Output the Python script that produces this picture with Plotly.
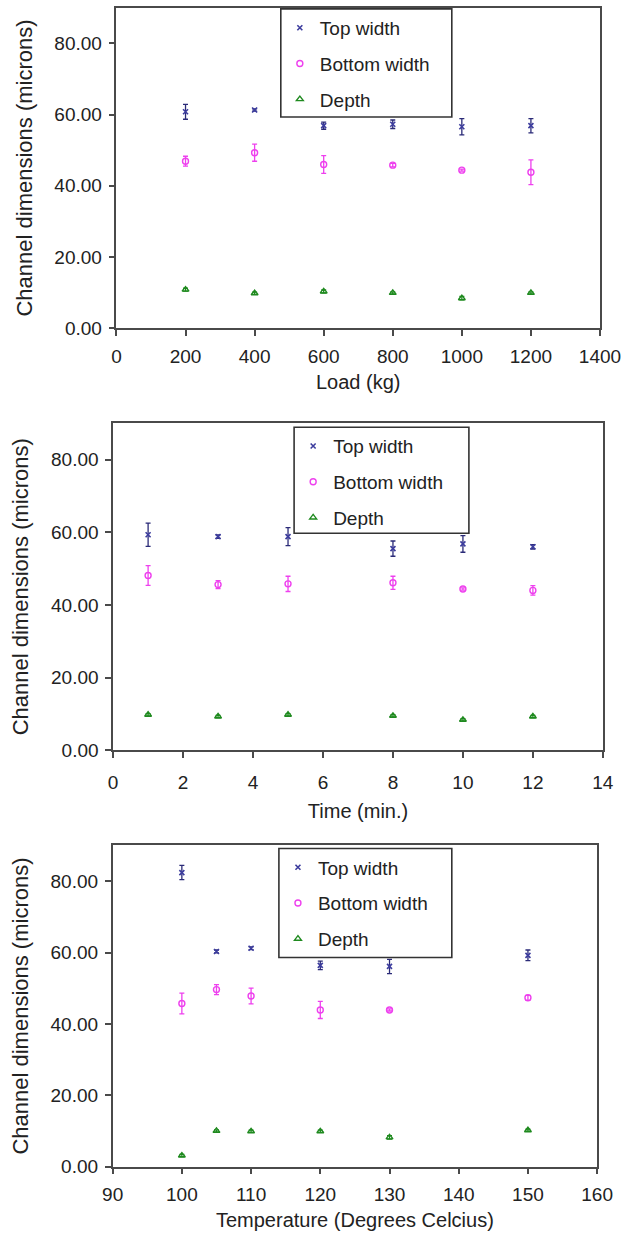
import plotly.graph_objects as go

# ---------------- data ----------------
load_kg = [200, 400, 600, 800, 1000, 1200]
load_top = [60.8, 61.3, 56.9, 57.3, 56.6, 56.9]
load_top_err = [2.1, 0.3, 1.0, 1.2, 2.3, 2.0]
load_bottom = [46.9, 49.3, 46.0, 45.8, 44.4, 43.8]
load_bottom_err = [1.4, 2.4, 2.5, 0.5, 0.3, 3.5]
load_depth = [10.8, 9.8, 10.3, 9.9, 8.4, 9.9]
load_depth_err = [0.4, 0.3, 0.4, 0.3, 0.5, 0.3]

time_min = [1, 3, 5, 8, 10, 12]
time_top = [59.3, 58.8, 58.8, 55.5, 56.8, 56.0]
time_top_err = [3.2, 0.5, 2.5, 2.1, 2.3, 0.6]
time_bottom = [48.1, 45.6, 45.8, 46.1, 44.4, 44.0]
time_bottom_err = [2.7, 1.1, 2.1, 1.8, 0.3, 1.3]
time_depth = [9.8, 9.3, 9.8, 9.5, 8.4, 9.3]
time_depth_err = [0.3, 0.3, 0.3, 0.3, 0.3, 0.3]

temp_c = [100, 105, 110, 120, 130, 150]
temp_top = [82.4, 60.3, 61.2, 56.4, 56.1, 59.2]
temp_top_err = [2.0, 0.4, 0.4, 1.2, 2.0, 1.5]
temp_bottom = [45.7, 49.6, 47.8, 43.9, 43.9, 47.3]
temp_bottom_err = [2.9, 1.4, 2.2, 2.4, 0.3, 0.7]
temp_depth = [3.1, 10.0, 9.9, 9.9, 8.2, 10.2]
temp_depth_err = [0.3, 0.3, 0.3, 0.3, 0.5, 0.3]

series_names = ["Top width", "Bottom width", "Depth"]
y_ticks = [0, 20, 40, 60, 80]

# ---------------- style ----------------
W, H = 640, 1245
FONT = "Arial, Liberation Sans, sans-serif"
TOP_C, TOP_E = "#3d3d9e", "#2b2b78"
BOT_C = "#ee40ee"
DEP_C = "#1f8a1f"
AX_C = "#4a4a4a"


def xd(px):
    return px / W


def yd(py):
    return 1 - py / H


fig = go.Figure()

panels = [
    (load_kg, [(load_top, load_top_err), (load_bottom, load_bottom_err), (load_depth, load_depth_err)], "x", "y", "legend"),
    (time_min, [(time_top, time_top_err), (time_bottom, time_bottom_err), (time_depth, time_depth_err)], "x2", "y2", "legend2"),
    (temp_c, [(temp_top, temp_top_err), (temp_bottom, temp_bottom_err), (temp_depth, temp_depth_err)], "x3", "y3", "legend3"),
]

styles = [
    dict(symbol="x-thin-open", size=5, line=dict(color=TOP_C, width=1.6), color=TOP_C),
    dict(symbol="circle-open", size=6, line=dict(color=BOT_C, width=1.4), color=BOT_C),
    dict(symbol="triangle-up-open", size=6, line=dict(color=DEP_C, width=1.4), color=DEP_C),
]
err_colors = [TOP_E, BOT_C, DEP_C]

for pi, (xs, ser, xa, ya, lg) in enumerate(panels):
    for si, (vals, errs) in enumerate(ser):
        fig.add_trace(go.Scatter(
            x=xs, y=vals, mode="markers", name=series_names[si],
            xaxis=xa, yaxis=ya, legend=lg, legendgroup=f"{lg}_{si}",
            marker=styles[si],
            error_y=dict(type="data", array=errs, visible=True,
                         color=err_colors[si], thickness=1.3, width=2.5),
        ))

axis_common = dict(showline=True, linecolor=AX_C, linewidth=1.5, mirror=True,
                   ticks="outside", ticklen=6, tickwidth=1.5, tickcolor=AX_C,
                   showgrid=False, zeroline=False,
                   tickfont=dict(family=FONT, size=19, color="#222"))
y_common = dict(ticklabelstandoff=3, tickformat=".2f", tickvals=y_ticks, range=[0, 90], **axis_common)

ytitle = dict(text="Channel dimensions (microns)", font=dict(family=FONT, size=22, color="#222"), standoff=16)


def xtitle(t, standoff=9):
    return dict(text=t, font=dict(family=FONT, size=20, color="#222"), standoff=standoff)


layout = dict(
    width=W, height=H, margin=dict(l=0, r=0, t=0, b=0),
    paper_bgcolor="white", plot_bgcolor="white",
    font=dict(family=FONT, color="#222"),
    xaxis=dict(domain=[xd(111), xd(620)], anchor="y", range=[0, 1400],
               tickvals=[0, 200, 400, 600, 800, 1000, 1200, 1400],
               ticklabelstandoff=4, title=xtitle("Load (kg)"), **axis_common),
    yaxis=dict(domain=[yd(331), yd(8)], anchor="x", title=ytitle, **y_common),
    xaxis2=dict(domain=[xd(107.5), xd(623)], anchor="y2", range=[0, 14],
                tickvals=[0, 2, 4, 6, 8, 10, 12, 14],
                ticklabelstandoff=8, title=xtitle("Time (min.)", 12), **axis_common),
    yaxis2=dict(domain=[yd(757), yd(427)], anchor="x2", title=ytitle, **y_common),
    xaxis3=dict(domain=[xd(107), xd(617)], anchor="y3", range=[90, 160],
                tickvals=[90, 100, 110, 120, 130, 140, 150, 160],
                ticklabelstandoff=4, title=xtitle("Temperature (Degrees Celcius)"), **axis_common),
    yaxis3=dict(domain=[yd(1177), yd(853)], anchor="x3", title=ytitle, **y_common),
)

legend_common = dict(xanchor="left", yanchor="top", bgcolor="rgba(0,0,0,0)",
                     borderwidth=0, font=dict(family=FONT, size=19, color="#222"),
                     tracegroupgap=8, itemwidth=30)
boxes = [(284, 9, 464, 118), (298, 431, 482, 538), (282, 856, 464, 966)]
for i, (x0, y0, x1, y1) in enumerate(boxes):
    key = "legend" if i == 0 else f"legend{i + 1}"
    layout[key] = dict(x=xd(x0 - 1), y=yd(y0), **legend_common)

shapes = []
for (x0, y0, x1, y1) in boxes:
    shapes.append(dict(type="rect", xref="paper", yref="paper",
                       x0=xd(x0), x1=xd(x1), y0=yd(y1), y1=yd(y0),
                       line=dict(color="#333", width=1.6), fillcolor="white", layer="above"))
layout["shapes"] = shapes

fig.update_layout(**layout)
fig.write_html("out.html", config={"displayModeBar": False},
               post_script="document.body.style.margin='0px';")
